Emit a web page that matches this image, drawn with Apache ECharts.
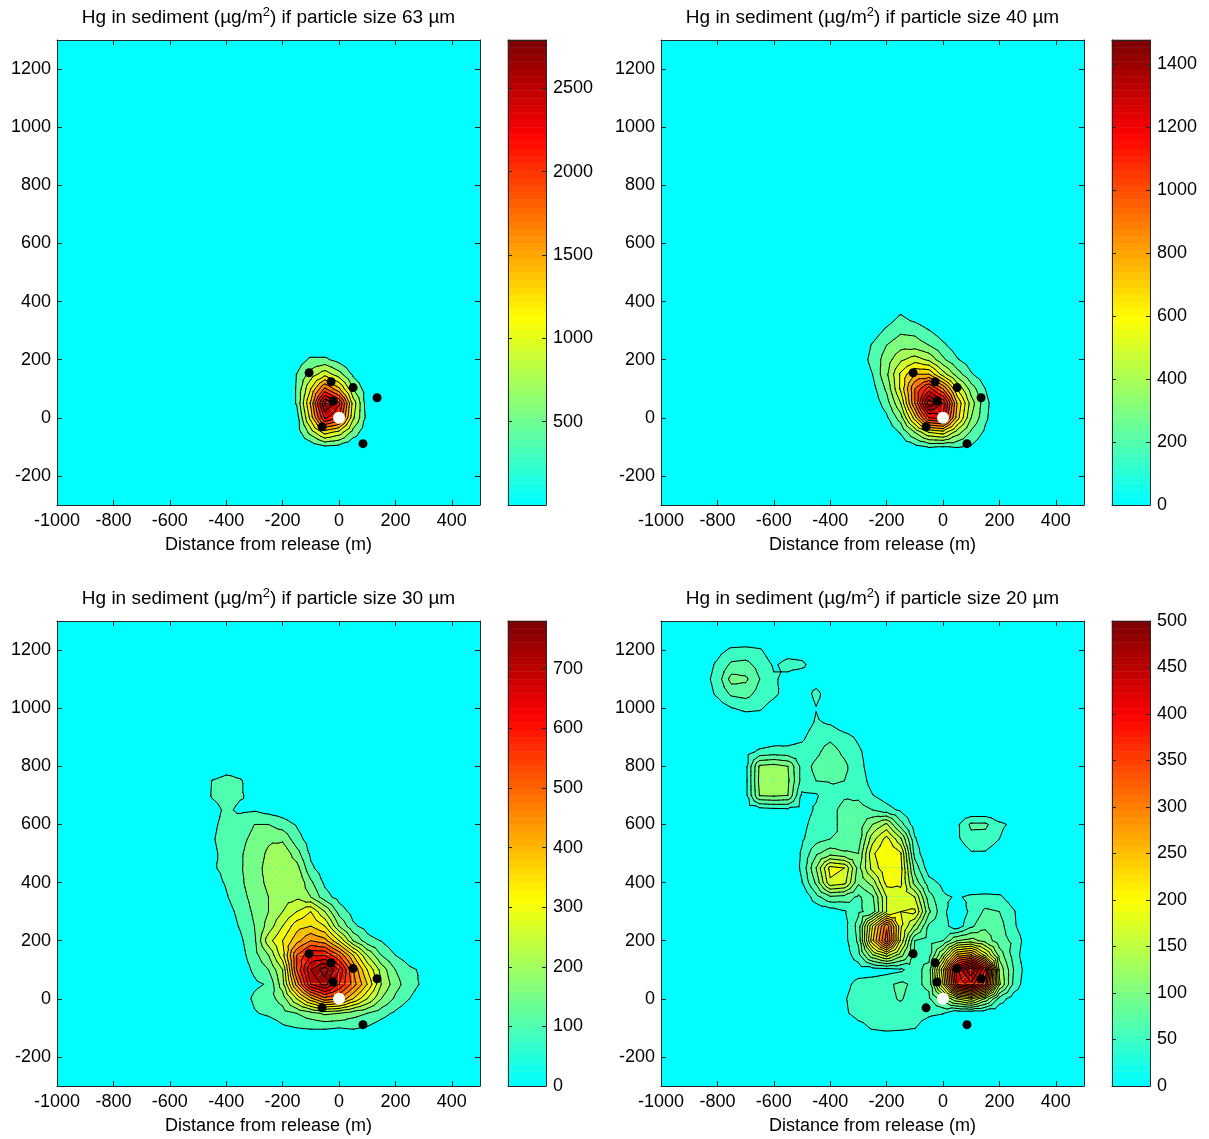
<!DOCTYPE html>
<html>
<head>
<meta charset="utf-8">
<title>Hg in sediment</title>
<script src="https://cdn.jsdelivr.net/npm/echarts@6/dist/echarts.min.js"></script>
<style>
  html, body { margin: 0; padding: 0; background: #fff; }
  #chart { width: 1209px; height: 1139px; }
</style>
</head>
<body>
<div id="chart"></div>
<script>
// ---- data (grid nodes every 50 m, values in µg/m²) ----
const xs63 = [-200, -150, -100, -50, 0, 50, 100, 150];
const ys63 = [250, 200, 150, 100, 50, 0, -50, -100, -150];
const hg63 = [
  [0, 0, 0, 0, 0, 0, 0, 0],
  [0, 100, 300, 300, 150, 0, 0, 0],
  [0, 255, 600, 900, 600, 200, 0, 0],
  [0, 270, 1000, 1800, 1300, 500, 100, 0],
  [0, 270, 1300, 2790, 2300, 900, 100, 0],
  [0, 120, 1100, 2300, 2000, 800, 150, 0],
  [0, 100, 600, 1100, 900, 400, 50, 0],
  [0, 0, 50, 200, 150, 0, 0, 0],
  [0, 0, 0, 0, 0, 0, 0, 0]
];

const xs40 = [-300, -250, -200, -150, -100, -50, 0, 50, 100, 150, 200];
const ys40 = [400, 350, 300, 250, 200, 150, 100, 50, 0, -50, -100, -150];
const hg40 = [
  [0, 0, 0, 0, 0, 0, 0, 0, 0, 0, 0],
  [0, 0, 40, 110, 50, 0, 0, 0, 0, 0, 0],
  [0, 40, 120, 180, 170, 105, 40, 0, 0, 0, 0],
  [20, 110, 200, 260, 250, 200, 120, 40, 0, 0, 0],
  [40, 130, 250, 380, 450, 380, 220, 110, 40, 0, 0],
  [20, 100, 280, 520, 700, 700, 450, 250, 110, 30, 0],
  [0, 60, 220, 520, 900, 1150, 900, 500, 250, 100, 0],
  [0, 30, 150, 400, 900, 1476, 1300, 700, 350, 130, 20],
  [0, 0, 80, 250, 650, 1100, 1150, 650, 300, 120, 10],
  [0, 0, 20, 110, 300, 500, 550, 350, 180, 80, 0],
  [0, 0, 0, 20, 60, 105, 95, 105, 90, 30, 0],
  [0, 0, 0, 0, 0, 0, 0, 0, 0, 0, 0]
];

const xs30 = [-500, -450, -400, -350, -300, -250, -200, -150, -100, -50, 0, 50, 100, 150, 200, 250, 300, 350];
const ys30 = [850, 800, 750, 700, 650, 600, 550, 500, 450, 400, 350, 300, 250, 200, 150, 100, 50, 0, -50, -100, -150];
const hg30 = [
  [0, 0, 0, 0, 0, 0, 0, 0, 0, 0, 0, 0, 0, 0, 0, 0, 0, 0],
  [0, 0, 20, 20, 0, 0, 0, 0, 0, 0, 0, 0, 0, 0, 0, 0, 0, 0],
  [0, 52, 70, 55, 20, 0, 0, 0, 0, 0, 0, 0, 0, 0, 0, 0, 0, 0],
  [0, 55, 70, 55, 35, 15, 0, 0, 0, 0, 0, 0, 0, 0, 0, 0, 0, 0],
  [0, 30, 60, 40, 45, 30, 20, 0, 0, 0, 0, 0, 0, 0, 0, 0, 0, 0],
  [0, 40, 65, 80, 100, 100, 75, 45, 10, 0, 0, 0, 0, 0, 0, 0, 0, 0],
  [0, 45, 70, 90, 110, 140, 140, 70, 25, 0, 0, 0, 0, 0, 0, 0, 0, 0],
  [0, 40, 65, 95, 120, 160, 190, 120, 40, 10, 0, 0, 0, 0, 0, 0, 0, 0],
  [0, 45, 60, 95, 125, 170, 200, 170, 60, 20, 0, 0, 0, 0, 0, 0, 0, 0],
  [0, 30, 55, 90, 130, 160, 190, 200, 110, 40, 10, 0, 0, 0, 0, 0, 0, 0],
  [0, 10, 45, 80, 120, 150, 180, 190, 150, 70, 30, 0, 0, 0, 0, 0, 0, 0],
  [0, 0, 30, 65, 110, 150, 200, 250, 300, 200, 80, 30, 0, 0, 0, 0, 0, 0],
  [0, 0, 20, 55, 100, 170, 250, 330, 350, 300, 150, 60, 30, 0, 0, 0, 0, 0],
  [0, 0, 10, 40, 90, 230, 300, 380, 450, 420, 300, 150, 70, 48, 10, 0, 0, 0],
  [0, 0, 0, 30, 80, 150, 280, 500, 600, 600, 500, 350, 200, 100, 50, 20, 0, 0],
  [0, 0, 0, 20, 60, 100, 200, 500, 700, 780, 650, 450, 300, 180, 100, 60, 40, 0],
  [0, 0, 0, 10, 40, 55, 180, 420, 650, 720, 600, 480, 350, 200, 120, 70, 40, 0],
  [0, 0, 0, 20, 60, 80, 120, 250, 380, 480, 450, 350, 250, 150, 90, 50, 20, 0],
  [0, 0, 0, 0, 45, 60, 80, 100, 130, 160, 150, 120, 100, 70, 40, 10, 0, 0],
  [0, 0, 0, 0, 0, 10, 40, 50, 55, 55, 50, 55, 45, 20, 0, 0, 0, 0],
  [0, 0, 0, 0, 0, 0, 0, 0, 0, 0, 0, 0, 0, 0, 0, 0, 0, 0]
];

const xs20 = [-850, -800, -750, -700, -650, -600, -550, -500, -450, -400, -350, -300, -250, -200, -150, -100, -50, 0, 50, 100, 150, 200, 250, 300];
const ys20 = [1250, 1200, 1150, 1100, 1050, 1000, 950, 900, 850, 800, 750, 700, 650, 600, 550, 500, 450, 400, 350, 300, 250, 200, 150, 100, 50, 0, -50, -100, -150];
const hg20 = [
  [0, 0, 0, 0, 0, 0, 0, 0, 0, 0, 0, 0, 0, 0, 0, 0, 0, 0, 0, 0, 0, 0, 0, 0],
  [0, 15, 30, 32, 28, 10, 15, 12, 0, 0, 0, 0, 0, 0, 0, 0, 0, 0, 0, 0, 0, 0, 0, 0],
  [10, 30, 55, 58, 40, 22, 32, 30, 12, 0, 0, 0, 0, 0, 0, 0, 0, 0, 0, 0, 0, 0, 0, 0],
  [15, 35, 85, 80, 50, 28, 18, 10, 12, 0, 0, 0, 0, 0, 0, 0, 0, 0, 0, 0, 0, 0, 0, 0],
  [10, 30, 55, 60, 40, 30, 15, 10, 32, 10, 0, 0, 0, 0, 0, 0, 0, 0, 0, 0, 0, 0, 0, 0],
  [0, 10, 24, 30, 28, 15, 5, 5, 24, 10, 0, 0, 0, 0, 0, 0, 0, 0, 0, 0, 0, 0, 0, 0],
  [0, 0, 5, 10, 10, 5, 0, 10, 28, 22, 5, 0, 0, 0, 0, 0, 0, 0, 0, 0, 0, 0, 0, 0],
  [0, 0, 0, 0, 5, 10, 15, 20, 40, 45, 35, 20, 0, 0, 0, 0, 0, 0, 0, 0, 0, 0, 0, 0],
  [0, 0, 0, 15, 30, 35, 32, 35, 45, 60, 45, 30, 10, 0, 0, 0, 0, 0, 0, 0, 0, 0, 0, 0],
  [0, 0, 0, 16, 105, 110, 100, 40, 55, 65, 55, 35, 10, 0, 0, 0, 0, 0, 0, 0, 0, 0, 0, 0],
  [0, 0, 0, 16, 108, 115, 105, 40, 50, 52, 50, 40, 15, 5, 0, 0, 0, 0, 0, 0, 0, 0, 0, 0],
  [0, 0, 0, 16, 102, 105, 100, 20, 22, 40, 48, 45, 26, 12, 0, 0, 0, 0, 0, 0, 0, 0, 0, 0],
  [0, 0, 0, 10, 12, 16, 18, 15, 28, 45, 55, 60, 50, 35, 20, 5, 0, 0, 0, 0, 0, 0, 0, 0],
  [0, 0, 0, 0, 0, 5, 10, 18, 35, 45, 55, 60, 100, 130, 60, 10, 0, 0, 20, 55, 55, 30, 20, 0],
  [0, 0, 0, 0, 0, 0, 5, 22, 40, 50, 50, 60, 140, 185, 130, 28, 0, 0, 20, 42, 40, 25, 10, 0],
  [0, 0, 0, 0, 0, 0, 5, 28, 70, 90, 80, 75, 170, 200, 178, 40, 0, 0, 5, 22, 22, 10, 0, 0],
  [0, 0, 0, 0, 0, 0, 0, 30, 100, 185, 175, 90, 160, 195, 185, 65, 10, 0, 0, 0, 0, 0, 0, 0],
  [0, 0, 0, 0, 0, 0, 0, 24, 80, 170, 160, 80, 110, 185, 180, 90, 35, 18, 0, 0, 0, 0, 0, 0],
  [0, 0, 0, 0, 0, 0, 0, 0, 40, 70, 65, 45, 70, 150, 165, 150, 60, 30, 22, 30, 32, 30, 10, 0],
  [0, 0, 0, 0, 0, 0, 0, 0, 5, 10, 22, 45, 60, 150, 175, 180, 80, 30, 10, 30, 55, 50, 28, 0],
  [0, 0, 0, 0, 0, 0, 0, 0, 0, 0, 15, 60, 200, 320, 180, 120, 45, 35, 10, 45, 70, 60, 30, 5],
  [0, 0, 0, 0, 0, 0, 0, 0, 0, 0, 15, 55, 220, 340, 170, 50, 40, 50, 100, 110, 90, 60, 45, 10],
  [0, 0, 0, 0, 0, 0, 0, 0, 0, 0, 10, 40, 120, 160, 110, 45, 40, 130, 260, 280, 190, 90, 40, 5],
  [0, 0, 0, 0, 0, 0, 0, 0, 0, 0, 5, 10, 10, 15, 20, 40, 60, 220, 420, 500, 400, 120, 50, 10],
  [0, 0, 0, 0, 0, 0, 0, 0, 0, 0, 15, 35, 40, 45, 55, 45, 55, 200, 400, 440, 360, 130, 45, 5],
  [0, 0, 0, 0, 0, 0, 0, 0, 0, 0, 22, 40, 42, 45, 52, 40, 45, 90, 150, 180, 120, 40, 10, 0],
  [0, 0, 0, 0, 0, 0, 0, 0, 0, 0, 20, 35, 38, 40, 40, 35, 30, 26, 0, 0, 0, 0, 0, 0],
  [0, 0, 0, 0, 0, 0, 0, 0, 0, 0, 0, 15, 28, 32, 30, 26, 10, 0, 0, 0, 0, 0, 0, 0],
  [0, 0, 0, 0, 0, 0, 0, 0, 0, 0, 0, 0, 0, 0, 0, 0, 0, 0, 0, 0, 0, 0, 0, 0]
];

// contour levels and colour-bar ranges
const levels63 = [250, 500, 750, 1000, 1250, 1500, 1750, 2000, 2250, 2500, 2750];
const levels40 = [100, 200, 300, 400, 500, 600, 700, 800, 900, 1000, 1100, 1200, 1300, 1400];
const levels30 = [50, 100, 150, 200, 250, 300, 350, 400, 450, 500, 550, 600, 650, 700, 750];
const levels20 = [25, 50, 75, 100, 125, 150, 175, 200, 225, 250, 275, 300, 325, 350, 375, 400, 425, 450, 475];
const cbMax = [2790, 1476, 780, 500];
const cbTicks63 = [500, 1000, 1500, 2000, 2500];
const cbTicks40 = [0, 200, 400, 600, 800, 1000, 1200, 1400];
const cbTicks30 = [0, 100, 200, 300, 400, 500, 600, 700];
const cbTicks20 = [0, 50, 100, 150, 200, 250, 300, 350, 400, 450, 500];

// sampling stations and release point
const stationX = [-106, -28, -21, 50, 135, -60, 85];
const stationY = [155, 124, 58, 104, 69, -31, -89];
const releaseX = [0];
const releaseY = [0];

const xTicks = [-1000, -800, -600, -400, -200, 0, 200, 400];
const yTicks = [-200, 0, 200, 400, 600, 800, 1000, 1200];
const sizes = ['63', '40', '30', '20'];

// ---- helpers ----
const FONT = "'Liberation Sans', Arial, Helvetica, sans-serif";
const AXIS = '#262626';

function jetUpper(k) {
  const t = k / 63;
  let r, g, b;
  if (t < 0.4) { r = t / 0.4; g = 1; b = 1 - t / 0.4; }
  else if (t < 0.8) { r = 1; g = 1 - (t - 0.4) / 0.4; b = 0; }
  else { r = 1 - (t - 0.8) / 0.2 * 0.5; g = 0; b = 0; }
  return 'rgb(' + Math.round(r * 255) + ',' + Math.round(g * 255) + ',' + Math.round(b * 255) + ')';
}
function colourOf(v, cmax) {
  let k = Math.floor(v / cmax * 64);
  if (k > 63) k = 63;
  if (k < 0) k = 0;
  return jetUpper(k);
}

function clipAbove(poly, c) {
  const out = [];
  for (let i = 0; i < poly.length; i++) {
    const p = poly[i], q = poly[(i + 1) % poly.length];
    const pin = p[2] >= c, qin = q[2] >= c;
    if (pin) out.push(p);
    if (pin !== qin) {
      const s = (c - p[2]) / (q[2] - p[2]);
      out.push([p[0] + s * (q[0] - p[0]), p[1] + s * (q[1] - p[1]), c]);
    }
  }
  return out;
}
function isoSegment(tri, c) {
  const pts = [];
  for (let i = 0; i < 3; i++) {
    const p = tri[i], q = tri[(i + 1) % 3];
    if ((p[2] >= c) !== (q[2] >= c)) {
      const s = (c - p[2]) / (q[2] - p[2]);
      pts.push([p[0] + s * (q[0] - p[0]), p[1] + s * (q[1] - p[1])]);
    }
  }
  return pts.length === 2 ? pts : null;
}
function cellTriangles(xs, ys, z, i, j) {
  const A = [xs[i], ys[j], z[j][i]];
  const B = [xs[i + 1], ys[j], z[j][i + 1]];
  const C = [xs[i + 1], ys[j + 1], z[j + 1][i + 1]];
  const D = [xs[i], ys[j + 1], z[j + 1][i]];
  const M = [(A[0] + B[0]) / 2, (A[1] + D[1]) / 2, (A[2] + B[2] + C[2] + D[2]) / 4];
  return [[A, B, M], [B, C, M], [C, D, M], [D, A, M]];
}

const panels = [
  { xs: xs63, ys: ys63, z: hg63, levels: levels63, cmax: cbMax[0], cbTicks: cbTicks63, left: 57, top: 40 },
  { xs: xs40, ys: ys40, z: hg40, levels: levels40, cmax: cbMax[1], cbTicks: cbTicks40, left: 661, top: 40 },
  { xs: xs30, ys: ys30, z: hg30, levels: levels30, cmax: cbMax[2], cbTicks: cbTicks30, left: 57, top: 621 },
  { xs: xs20, ys: ys20, z: hg20, levels: levels20, cmax: cbMax[3], cbTicks: cbTicks20, left: 661, top: 621 }
];
const W = 423, H = 465;

const grid = [], xAxis = [], yAxis = [], series = [], graphic = [];
const label = { color: '#000', fontSize: 18, fontFamily: FONT };

panels.forEach(function (p, n) {
  const g = grid.length;
  grid.push({ left: p.left, top: p.top, width: W, height: H, show: true,
    backgroundColor: 'rgb(0,255,255)', borderWidth: 0 });
  grid.push({ left: p.left + 451, top: p.top, width: 38, height: H, show: false });

  const line = { show: true, onZero: false, lineStyle: { color: AXIS, width: 1 } };
  const xi = xAxis.length, yi = yAxis.length;
  xAxis.push({
    gridIndex: g, type: 'value', min: -1000, max: 500, position: 'bottom', z: 10,
    axisLine: line, splitLine: { show: false },
    axisTick: { inside: true, length: 5, customValues: xTicks, lineStyle: { color: AXIS } },
    axisLabel: Object.assign({ customValues: xTicks, margin: 7, formatter: function (v) { return String(v); } }, label),
    name: 'Distance from release (m)', nameLocation: 'middle', nameGap: 31,
    nameTextStyle: label
  });
  xAxis.push({
    gridIndex: g, type: 'value', min: -1000, max: 500, position: 'top', z: 10,
    axisLine: line, splitLine: { show: false }, axisLabel: { show: false },
    axisTick: { inside: true, length: 5, customValues: xTicks, lineStyle: { color: AXIS } }
  });
  yAxis.push({
    gridIndex: g, type: 'value', min: -300, max: 1300, position: 'left', z: 10,
    axisLine: line, splitLine: { show: false },
    axisTick: { inside: true, length: 5, customValues: yTicks, lineStyle: { color: AXIS } },
    axisLabel: Object.assign({ customValues: yTicks, margin: 6, formatter: function (v) { return String(v); } }, label)
  });
  yAxis.push({
    gridIndex: g, type: 'value', min: -300, max: 1300, position: 'right', z: 10,
    axisLine: line, splitLine: { show: false }, axisLabel: { show: false },
    axisTick: { inside: true, length: 5, customValues: yTicks, lineStyle: { color: AXIS } }
  });
  // colour bar axes
  const cxi = xAxis.length, cyi = yAxis.length;
  xAxis.push({ gridIndex: g + 1, type: 'value', min: 0, max: 1, position: 'bottom', z: 10,
    axisLine: line, axisTick: { show: false }, axisLabel: { show: false }, splitLine: { show: false } });
  xAxis.push({ gridIndex: g + 1, type: 'value', min: 0, max: 1, position: 'top', z: 10,
    axisLine: line, axisTick: { show: false }, axisLabel: { show: false }, splitLine: { show: false } });
  yAxis.push({ gridIndex: g + 1, type: 'value', min: 0, max: p.cmax, position: 'right', z: 10,
    axisLine: line, splitLine: { show: false },
    axisTick: { inside: true, length: 4, customValues: p.cbTicks, lineStyle: { color: AXIS } },
    axisLabel: Object.assign({ customValues: p.cbTicks, margin: 7, formatter: function (v) { return String(v); } }, label) });
  yAxis.push({ gridIndex: g + 1, type: 'value', min: 0, max: p.cmax, position: 'left', z: 10,
    axisLine: line, splitLine: { show: false }, axisLabel: { show: false },
    axisTick: { inside: true, length: 4, customValues: p.cbTicks, lineStyle: { color: AXIS } } });

  // cells that reach the first contour level
  const cells = [];
  for (let j = 0; j < p.ys.length - 1; j++) {
    for (let i = 0; i < p.xs.length - 1; i++) {
      const m = Math.max(p.z[j][i], p.z[j][i + 1], p.z[j + 1][i], p.z[j + 1][i + 1]);
      if (m >= p.levels[0]) {
        cells.push([(p.xs[i] + p.xs[i + 1]) / 2, (p.ys[j] + p.ys[j + 1]) / 2, i, j]);
      }
    }
  }
  const bandColours = p.levels.map(function (l, k) {
    return colourOf(k + 1 < p.levels.length ? p.levels[k + 1] : p.cmax, p.cmax);
  });

  series.push({
    type: 'custom', xAxisIndex: xi, yAxisIndex: yi, data: cells, silent: true,
    encode: { x: 0, y: 1 },
    renderItem: function (params, api) {
      const tris = cellTriangles(p.xs, p.ys, p.z, api.value(2), api.value(3));
      const children = [];
      tris.forEach(function (tri) {
        const top = Math.max(tri[0][2], tri[1][2], tri[2][2]);
        p.levels.forEach(function (l, k) {
          if (top < l) return;
          const poly = clipAbove(tri, l);
          if (poly.length < 3) return;
          children.push({
            type: 'polygon',
            shape: { points: poly.map(function (q) { return api.coord([q[0], q[1]]); }) },
            style: { fill: bandColours[k], stroke: bandColours[k], lineWidth: 0.6 }
          });
        });
      });
      return { type: 'group', children: children };
    }
  });
  series.push({
    type: 'custom', xAxisIndex: xi, yAxisIndex: yi, data: cells, silent: true,
    encode: { x: 0, y: 1 },
    renderItem: function (params, api) {
      const tris = cellTriangles(p.xs, p.ys, p.z, api.value(2), api.value(3));
      const children = [];
      tris.forEach(function (tri) {
        p.levels.forEach(function (l) {
          const s = isoSegment(tri, l);
          if (!s) return;
          const a = api.coord(s[0]), b = api.coord(s[1]);
          children.push({ type: 'line', shape: { x1: a[0], y1: a[1], x2: b[0], y2: b[1] },
            style: { stroke: '#000', lineWidth: 1, lineCap: 'round' } });
        });
      });
      return { type: 'group', children: children };
    }
  });
  series.push({
    type: 'scatter', xAxisIndex: xi, yAxisIndex: yi, silent: true, symbolSize: 9, z: 5,
    itemStyle: { color: '#000', opacity: 1 },
    data: stationX.map(function (x, k) { return [x, stationY[k]]; })
  });
  series.push({
    type: 'scatter', xAxisIndex: xi, yAxisIndex: yi, silent: true, symbolSize: 12, z: 5,
    itemStyle: { color: '#fff', opacity: 1 },
    data: releaseX.map(function (x, k) { return [x, releaseY[k]]; })
  });

  // stepped colour bar (64-colour map)
  const steps = [];
  for (let k = 0; k < 64; k++) steps.push([0.5, (k + 0.5) * p.cmax / 64, k]);
  series.push({
    type: 'custom', xAxisIndex: cxi, yAxisIndex: cyi, data: steps, silent: true,
    encode: { x: 0, y: 1 },
    renderItem: function (params, api) {
      const k = api.value(2);
      const p0 = api.coord([0, k * p.cmax / 64]);
      const p1 = api.coord([1, (k + 1) * p.cmax / 64]);
      return { type: 'rect',
        shape: { x: p0[0], y: p1[1], width: p1[0] - p0[0], height: p0[1] - p1[1] },
        style: { fill: jetUpper(k), stroke: jetUpper(k), lineWidth: 0.6 } };
    }
  });

  graphic.push({
    type: 'text', x: p.left + W / 2, y: p.top - 22, silent: true,
    style: {
      text: '{a|Hg in sediment (µg/m}{s|2}{a|) if particle size ' + sizes[n] + ' µm}',
      align: 'center', verticalAlign: 'middle', fontFamily: FONT, fontSize: 19, fill: '#000',
      rich: {
        a: { fontFamily: FONT, fontSize: 19, fill: '#000', lineHeight: 24 },
        s: { fontFamily: FONT, fontSize: 13, fill: '#000', verticalAlign: 'top', lineHeight: 24 }
      }
    }
  });
});

const chart = echarts.init(document.getElementById('chart'));
chart.setOption({
  animation: false,
  backgroundColor: '#fff',
  grid: grid,
  xAxis: xAxis,
  yAxis: yAxis,
  series: series,
  graphic: graphic
});
window.addEventListener('resize', function () { chart.resize(); });
</script>
</body>
</html>
